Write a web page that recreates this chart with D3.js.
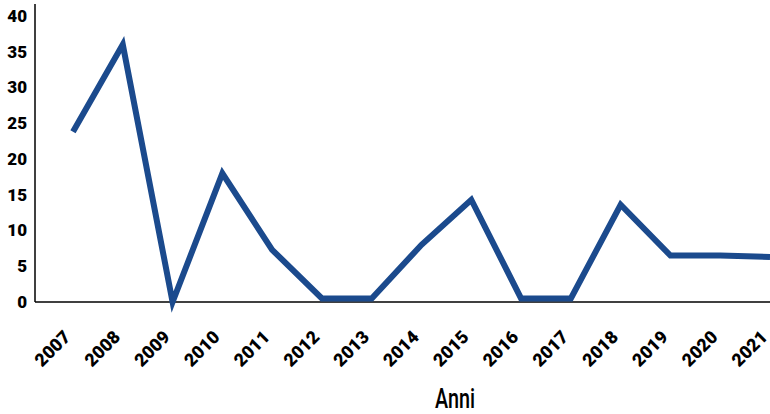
<!DOCTYPE html>
<html lang="it">
<head>
<meta charset="UTF-8">
<script src="https://d3js.org/d3.v7.min.js"></script>
<style>
  body { margin: 0; background: #fff; }
  .tick text { font-family: Roboto, "DejaVu Sans", sans-serif; font-weight: 900; fill: #000; }
  .x-axis .tick text { font-size: 18px; }
  .y-axis .tick text { font-size: 17px; }
</style>
</head>
<body>
<div id="chart"></div>
<script>
const years = ["2007","2008","2009","2010","2011","2012","2013","2014","2015","2016","2017","2018","2019","2020","2021"];
const values = [23.8, 36, 0, 18, 7.3, 0.5, 0.5, 8, 14.3, 0.5, 0.5, 13.6, 6.5, 6.5, 6.3];
const yTicks = [0, 5, 10, 15, 20, 25, 30, 35, 40];

const width = 770, height = 414;
const svg = d3.select("#chart").append("svg")
    .attr("width", width)
    .attr("height", height);

const x = d3.scalePoint().domain(years).range([73, 770]);
const y = d3.scaleLinear().domain([0, 40]).range([302, 16]);

// y axis
const yAxis = svg.append("g")
    .attr("class", "y-axis")
    .attr("transform", "translate(35,0)")
    .call(d3.axisLeft(y).tickValues(yTicks).tickSize(0).tickPadding(8));
yAxis.select(".domain").remove();
svg.append("line")
    .attr("x1", 35).attr("x2", 35).attr("y1", 4).attr("y2", 302)
    .attr("stroke", "#000").attr("stroke-width", 1.5);

// x axis
const xAxis = svg.append("g")
    .attr("class", "x-axis")
    .attr("transform", "translate(0,302)")
    .call(d3.axisBottom(x).tickSize(0));
xAxis.select(".domain").remove();
xAxis.selectAll("text")
    .attr("text-anchor", "end")
    .attr("dx", 0).attr("dy", 0)
    .attr("transform", "translate(-4,34) rotate(-45)");
svg.append("line")
    .attr("x1", 35).attr("x2", width).attr("y1", 302).attr("y2", 302)
    .attr("stroke", "#000").attr("stroke-width", 1.5);

// line
const line = d3.line()
    .x((d, i) => x(years[i]))
    .y(d => y(d));
svg.append("path")
    .datum(values)
    .attr("d", line)
    .attr("fill", "none")
    .attr("stroke", "#1b4a8d")
    .attr("stroke-width", 6)
    .attr("stroke-linejoin", "miter");

// axis title
svg.append("text")
    .attr("x", 435).attr("y", 408)
    .attr("textLength", 40)
    .attr("lengthAdjust", "spacingAndGlyphs")
    .style("font-family", "Roboto, sans-serif")
    .style("font-weight", 500)
    .style("font-size", "28px")
    .text("Anni");
</script>
</body>
</html>
